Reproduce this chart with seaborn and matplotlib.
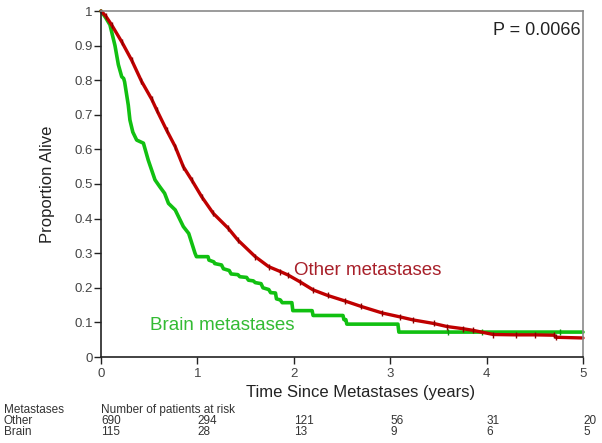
import numpy as np
import pandas as pd
import matplotlib
matplotlib.use("Agg")
import matplotlib.pyplot as plt
import matplotlib.transforms as mtrans
import seaborn as sns

# ---------------- data ----------------
other_time = [0, 0.05, 0.11, 0.215, 0.318, 0.42, 0.526, 0.578, 0.68, 0.77, 0.854,
              0.94, 1.045, 1.165, 1.32, 1.42, 1.60, 1.74, 1.86, 1.94, 2.06, 2.20, 2.35, 2.53,
              2.70, 2.92, 3.10, 3.24, 3.45, 3.59, 3.75, 3.86, 4.07, 4.30, 4.50, 4.70,
              4.72, 5.0]
other_surv = [1.0, 0.985, 0.96, 0.911, 0.858, 0.797, 0.745, 0.714, 0.656, 0.608, 0.55,
              0.512, 0.463, 0.415, 0.372, 0.338, 0.29, 0.261, 0.247, 0.237, 0.218, 0.194, 0.178, 0.162,
              0.146, 0.127, 0.116, 0.107, 0.097, 0.088, 0.082, 0.077, 0.065, 0.064, 0.064, 0.063,
              0.057, 0.055]

# vertices of the Brain curve (step corners included)
brain_time = [0, 0.05, 0.093, 0.145, 0.18, 0.215, 0.235, 0.245, 0.283, 0.30, 0.33, 0.37,
              0.44, 0.49, 0.56, 0.61, 0.66, 0.70, 0.77, 0.854, 0.91, 0.975, 0.99, 1.11,
              1.12, 1.17, 1.18, 1.25, 1.27, 1.33, 1.35, 1.42, 1.44, 1.51, 1.53, 1.58, 1.60,
              1.66, 1.68, 1.74, 1.76, 1.81, 1.82, 1.86, 1.88, 1.98, 1.99, 2.19, 2.20, 2.51,
              2.52, 2.54, 2.55, 3.08, 3.09, 3.60, 3.95, 4.76, 5.0]
brain_surv = [1.0, 0.98, 0.96, 0.90, 0.845, 0.81, 0.805, 0.795, 0.728, 0.685, 0.65, 0.627,
              0.618, 0.569, 0.512, 0.492, 0.473, 0.444, 0.425, 0.377, 0.357, 0.30, 0.29, 0.29,
              0.28, 0.275, 0.27, 0.266, 0.255, 0.25, 0.24, 0.238, 0.232, 0.23, 0.222, 0.22, 0.215,
              0.212, 0.20, 0.195, 0.186, 0.185, 0.168, 0.165, 0.157, 0.157, 0.134, 0.134, 0.12, 0.12,
              0.108, 0.108, 0.095, 0.095, 0.072, 0.072, 0.072, 0.072, 0.072]
brain_censor_times = [3.60, 3.95, 4.76]

risk_times = [0, 1, 2, 3, 4, 5]
risk_other = [690, 294, 121, 56, 31, 20]
risk_brain = [115, 28, 13, 9, 6, 5]
y_ticks = [0, 0.1, 0.2, 0.3, 0.4, 0.5, 0.6, 0.7, 0.8, 0.9, 1]
x_ticks = [0, 1, 2, 3, 4, 5]

# ---------------- style ----------------
sns.set_theme(style="white")
plt.rcParams["font.family"] = ["Liberation Sans", "DejaVu Sans"]

RED = "#c00000"
GREEN = "#11c011"

fig = plt.figure(figsize=(6.02, 4.43), dpi=100)
ax = fig.add_axes([101/602, 1 - 357/443, 482/602, 346/443])

df_o = pd.DataFrame({"t": other_time, "s": other_surv})
df_b = pd.DataFrame({"t": brain_time, "s": brain_surv})
brain_censor_idx = [brain_time.index(t) for t in brain_censor_times]

sns.lineplot(data=df_b, x="t", y="s", ax=ax, estimator=None, sort=False,
             color=GREEN, lw=2.6, clip_on=False,
             marker="|", markersize=5, markeredgewidth=1, markeredgecolor="#0a9a0a",
             markevery=brain_censor_idx)
sns.lineplot(data=df_o, x="t", y="s", ax=ax, estimator=None, sort=False,
             color=RED, lw=2.4, clip_on=False,
             marker="|", markersize=5, markeredgewidth=1, markeredgecolor="#8a0000",
             markevery=list(range(1, len(other_time) - 1)))

ax.set_xlim(0, 5)
ax.set_ylim(0, 1)
ax.set_xticks(x_ticks)
ax.set_yticks(y_ticks)
ax.set_xticklabels([f"{v:g}" for v in x_ticks])
ax.set_yticklabels([f"{v:g}" for v in y_ticks])
ax.tick_params(axis="both", direction="out", length=5, width=1, color="#222",
               labelcolor="#444", labelsize=9.5, pad=1, left=True, bottom=True)
ax.tick_params(axis="x", pad=3)

for side in ["left", "bottom"]:
    ax.spines[side].set_color("#222")
    ax.spines[side].set_linewidth(1.2)
for side in ["top", "right"]:
    ax.spines[side].set_color("#8a8a8a")
    ax.spines[side].set_linewidth(1.2)

ax.set_xlabel("")
ax.set_ylabel("Proportion Alive", fontsize=12, color="#222", labelpad=14)

fig.text(361/602, 1 - 393/443, "Time Since Metastases (years)", ha="center",
         va="center", fontsize=12, color="#222")

ax.text(4.98, 0.945, "P = 0.0066", ha="right", va="center", fontsize=13, color="#222")
ax.text(2.0, 0.25, "Other metastases", ha="left", va="center", fontsize=13.5, color="#a8202a")
ax.text(0.51, 0.092, "Brain metastases", ha="left", va="center", fontsize=13.5, color="#33bb33")

# risk table
tr = mtrans.blended_transform_factory(ax.transData, fig.transFigure)
rows_y = [1 - 410/443, 1 - 421/443, 1 - 432/443]
fs = 8.5
tc = "#333"
fig.text(4/602, rows_y[0], "Metastases", ha="left", va="center", fontsize=fs, color=tc)
fig.text(4/602, rows_y[1], "Other", ha="left", va="center", fontsize=fs, color=tc)
fig.text(4/602, rows_y[2], "Brain", ha="left", va="center", fontsize=fs, color=tc)
ax.text(0, rows_y[0], "Number of patients at risk", transform=tr, ha="left",
        va="center", fontsize=fs, color=tc)
for t, o, b in zip(risk_times, risk_other, risk_brain):
    ax.text(t, rows_y[1], str(o), transform=tr, ha="left", va="center", fontsize=fs, color=tc)
    ax.text(t, rows_y[2], str(b), transform=tr, ha="left", va="center", fontsize=fs, color=tc)

fig.savefig("out.png", dpi=100)
